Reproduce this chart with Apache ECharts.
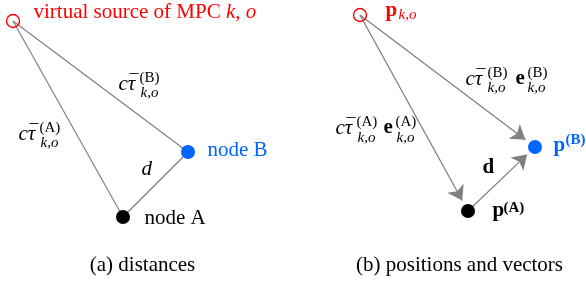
<!DOCTYPE html>
<html>
<head>
<meta charset="utf-8">
<script src="https://cdn.jsdelivr.net/npm/echarts@6/dist/echarts.min.js"></script>
<style>html,body{margin:0;padding:0;background:#fff;}#c{width:586px;height:281px;}</style>
</head>
<body>
<div id="c"></div>
<script>
// ---- data: node positions (diagram units = page pixels) ----
const sourceA = [13, 21];
const nodeA = [123, 217];
const nodeB = [188, 152];
const sourceB = [360, 15];
const posA = [468, 211];
const posB = [535, 147];

const RED = '#ff0000', BLUE = '#0066ff', GRAY = '#808080';
const SERIF = '"Liberation Serif", "DejaVu Serif", serif';
const FS = 21, SS = 15;

function shorten(p, q, d) {
  const dx = q[0] - p[0], dy = q[1] - p[1], L = Math.hypot(dx, dy);
  return [q[0] - dx / L * d, q[1] - dy / L * d];
}

// text item: x = left (or centre if opt.center), base = baseline y
function T(x, base, text, opt) {
  opt = opt || {};
  const fs = opt.fs || FS;
  return {
    value: [x, base - 0.33 * fs],
    label: {
      show: true, position: opt.center ? 'inside' : 'right', distance: 0,
      align: opt.center ? 'center' : 'left',
      verticalAlign: 'middle',
      formatter: text,
      fontFamily: SERIF, fontSize: fs,
      fontStyle: opt.italic ? 'italic' : 'normal',
      fontWeight: opt.bold ? 'bold' : 'normal',
      color: opt.color || '#000'
    }
  };
}
function scr(x, center, text, opt) { // script text by its vertical centre
  opt = opt || {};
  const fs = opt.fs || SS;
  return T(x, center + 0.33 * fs, text, Object.assign({fs: fs}, opt));
}
// c tau-bar group: c at x, baseline base
function ctau(x, base) {
  return [
    T(x, base, 'cτ', {italic: true}),
    T(x + 16, base - 3, '¯', {fs: 18, center: true})
  ];
}

const texts = [
  // panel (a)
  {
    value: [33, 19 - 0.33 * FS],
    label: {
      show: true, position: 'right', distance: 0,
      formatter: '{r|virtual source of MPC }{i|k, o}',
      rich: {
        r: {fontFamily: SERIF, fontSize: FS, color: RED},
        i: {fontFamily: SERIF, fontSize: FS, color: RED, fontStyle: 'italic'}
      }
    }
  },
  ...ctau(118, 91),
  scr(139, 78, '(B)'),
  scr(140, 93, 'k,o', {italic: true}),
  ...ctau(18, 141),
  scr(39, 128, '(A)'),
  scr(40, 143, 'k,o', {italic: true}),
  T(141, 176, 'd', {italic: true}),
  T(207, 157, 'node B', {color: BLUE}),
  T(144, 225, 'node A'),
  // panel (b)
  T(385, 18, 'p', {bold: true, color: RED}),
  scr(398, 15, 'k,o', {italic: true, color: RED}),
  ...ctau(335, 135),
  scr(356, 122, '(A)'),
  scr(357, 138, 'k,o', {italic: true}),
  T(383, 135, 'e', {bold: true}),
  scr(395, 122, '(A)'),
  scr(396, 138, 'k,o', {italic: true}),
  ...ctau(465, 86),
  scr(487, 73, '(B)'),
  scr(487, 88, 'k,o', {italic: true}),
  T(515, 86, 'e', {bold: true}),
  scr(527, 73, '(B)'),
  scr(527, 88, 'k,o', {italic: true}),
  T(482, 175, 'd', {bold: true}),
  T(492, 218, 'p', {bold: true}),
  scr(503, 208, '(A)', {bold: true}),
  T(553, 153, 'p', {bold: true, color: BLUE}),
  scr(565, 140, '(B)', {bold: true, color: BLUE}),
  // captions
  T(142.5, 272, '(a) distances', {center: true}),
  T(459.5, 272, '(b) positions and vectors', {center: true})
];

const chart = echarts.init(document.getElementById('c'), null, {renderer: 'canvas'});
chart.setOption({
  animation: false,
  grid: {left: 0, right: 0, top: 0, bottom: 0},
  xAxis: {type: 'value', min: 0, max: 586, show: false},
  yAxis: {type: 'value', min: 0, max: 281, inverse: true, show: false},
  series: [
    {
      type: 'lines', coordinateSystem: 'cartesian2d', silent: true,
      symbol: 'none',
      lineStyle: {color: GRAY, width: 1.2, opacity: 1},
      data: [
        {coords: [sourceA, nodeA]},
        {coords: [sourceA, nodeB]},
        {coords: [nodeA, nodeB]}
      ]
    },
    {
      type: 'lines', coordinateSystem: 'cartesian2d', silent: true,
      symbol: ['none', 'arrow'], symbolSize: [10, 14],
      lineStyle: {color: GRAY, width: 1.3, opacity: 1},
      data: [
        {coords: [sourceB, shorten(sourceB, posA, 12)]},
        {coords: [sourceB, shorten(sourceB, posB, 12)]},
        {coords: [posA, shorten(posA, posB, 11)]}
      ]
    },
    {
      type: 'scatter', silent: true, symbol: 'circle', symbolSize: 13,
      itemStyle: {color: 'rgba(0,0,0,0)', borderColor: RED, borderWidth: 1.4, opacity: 1},
      data: [sourceA, sourceB]
    },
    {
      type: 'scatter', silent: true, symbol: 'circle', symbolSize: 14,
      data: [
        {value: nodeA, itemStyle: {color: '#000', opacity: 1}},
        {value: nodeB, itemStyle: {color: BLUE, opacity: 1}},
        {value: posA, itemStyle: {color: '#000', opacity: 1}},
        {value: posB, itemStyle: {color: BLUE, opacity: 1}}
      ]
    },
    {
      type: 'scatter', silent: true, symbolSize: 1,
      itemStyle: {color: 'rgba(0,0,0,0)', opacity: 1},
      data: texts
    }
  ]
});
</script>
</body>
</html>
